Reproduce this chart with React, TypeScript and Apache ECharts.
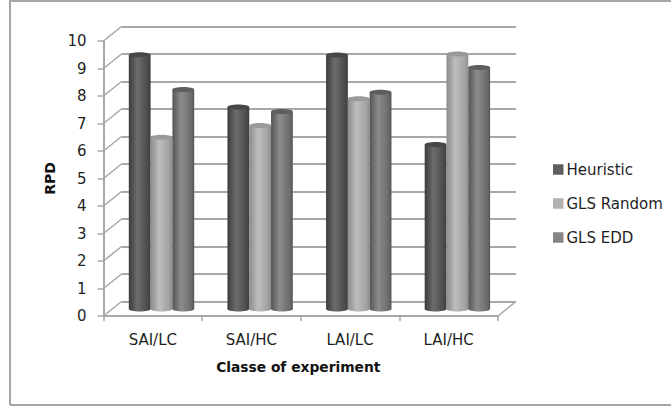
import React, { useEffect, useRef } from "react";
import * as echarts from "echarts";

const categories = ["SAI/LC", "SAI/HC", "LAI/LC", "LAI/HC"];
const heuristic = [9.25, 7.35, 9.24, 5.98];
const glsRandom = [6.25, 6.67, 7.65, 9.27];
const glsEdd = [7.98, 7.18, 7.88, 8.78];
const yTicks = [0, 1, 2, 3, 4, 5, 6, 7, 8, 9, 10];

const FONT = "DejaVu Sans";
const AXIS = "#a8a8a8";
const TEXT = "#1f1f1f";
const DEPTH_X = 18;
const DEPTH_Y = -14.5;
const BAR_DX = 8.7;
const BAR_DY = -7;
const BAR_W = 21.8;

function cylinder(offset: number, stops: string[], cap: string) {
  return (_p: any, api: any) => {
    const top = api.coord([api.value(0), api.value(1)]);
    const base = api.coord([api.value(0), 0]);
    const cx = top[0] + BAR_DX + offset * BAR_W;
    const yTop = top[1] + BAR_DY;
    const yBase = base[1] + BAR_DY;
    const rx = BAR_W / 2;
    const fill = new echarts.graphic.LinearGradient(0, 0, 1, 0, [
      { offset: 0, color: stops[0] },
      { offset: 0.4, color: stops[1] },
      { offset: 0.85, color: stops[2] },
      { offset: 1, color: stops[0] },
    ]);
    return {
      type: "group",
      children: [
        { type: "ellipse", shape: { cx, cy: yBase, rx, ry: 2.5 }, style: { fill } },
        { type: "rect", shape: { x: cx - rx, y: yTop, width: BAR_W, height: yBase - yTop }, style: { fill } },
        { type: "ellipse", shape: { cx, cy: yTop, rx, ry: 2.5 }, style: { fill: cap } },
      ],
    };
  };
}

function barSeries(name: string, values: number[], offset: number, stops: string[], cap: string, color: string) {
  return {
    name,
    type: "custom",
    xAxisIndex: 0,
    yAxisIndex: 0,
    z: 5,
    clip: false,
    itemStyle: { color },
    encode: { x: 0, y: 1 },
    data: values.map((v, i) => [categories[i], v]),
    renderItem: cylinder(offset, stops, cap),
  };
}

export default function App() {
  const ref = useRef<HTMLDivElement>(null);
  useEffect(() => {
    const chart = echarts.init(ref.current!, undefined, { renderer: "svg" });
    const lineStyle = { color: AXIS, width: 2 };
    chart.setOption({
      animation: false,
      backgroundColor: "#fff",
      textStyle: { fontFamily: FONT },
      graphic: [
        {
          type: "polyline",
          z: 0,
          shape: { points: [[10, 405], [10, 1], [671, 1]] },
          style: { stroke: "#a6a6a6", lineWidth: 2, fill: "none" },
        },
        {
          type: "line",
          z: 0,
          shape: { x1: 10, y1: 405, x2: 671, y2: 405 },
          style: { stroke: "#a6a6a6", lineWidth: 2 },
        },
      ],
      legend: {
        orient: "vertical",
        left: 548,
        top: 157,
        icon: "rect",
        itemWidth: 10.5,
        itemHeight: 10.5,
        itemGap: 19,
        textStyle: { fontFamily: FONT, fontSize: 15, color: TEXT, padding: [0, 0, 0, -2] },
        data: ["Heuristic", "GLS Random", "GLS EDD"],
      },
      grid: [
        { left: 103.5, top: 41, width: 394.5, height: 275 },
        { left: 121.5, top: 26.5, width: 394.5, height: 275 },
      ],
      xAxis: [
        {
          type: "category",
          gridIndex: 0,
          data: categories,
          axisLine: { lineStyle },
          axisTick: { show: true, length: 5, lineStyle: { color: AXIS, width: 1.5 } },
          axisLabel: { fontFamily: FONT, fontSize: 15, color: TEXT, margin: 16 },
          name: "Classe of experiment",
          nameLocation: "middle",
          nameGap: 44,
          nameTextStyle: { fontFamily: FONT, fontSize: 13.8, fontWeight: "bold", color: "#111", padding: [0, 5, 0, 0] },
        },
        { type: "category", gridIndex: 1, data: categories, show: false },
      ],
      yAxis: [
        {
          type: "value",
          gridIndex: 0,
          min: 0,
          max: 10,
          interval: 1,
          axisLine: { show: true, lineStyle },
          axisTick: { show: true, length: 6, lineStyle: { color: AXIS, width: 1.5 } },
          splitLine: { show: false },
          axisLabel: { fontFamily: FONT, fontSize: 15, color: TEXT, margin: 17 },
          name: "RPD",
          nameLocation: "middle",
          nameRotate: 90,
          nameGap: 47,
          nameTextStyle: { fontFamily: FONT, fontSize: 14, fontWeight: "bold", color: "#111" },
        },
        {
          type: "value",
          gridIndex: 1,
          min: 0,
          max: 10,
          interval: 1,
          axisLine: { show: false },
          axisTick: { show: false },
          axisLabel: { show: false },
          splitLine: { show: true, lineStyle },
        },
      ],
      series: [
        {
          type: "custom",
          silent: true,
          xAxisIndex: 0,
          yAxisIndex: 0,
          z: 1,
          clip: false,
          encode: { y: 0 },
          data: yTicks.map((v) => [v]),
          renderItem: (_p: any, api: any) => {
            const c = api.coord([0, api.value(0)]);
            const x = _p.coordSys.x;
            return {
              type: "line",
              shape: { x1: x, y1: c[1], x2: x + DEPTH_X, y2: c[1] + DEPTH_Y },
              style: { stroke: AXIS, lineWidth: 1.6 },
            };
          },
        },
        {
          type: "custom",
          silent: true,
          xAxisIndex: 0,
          yAxisIndex: 0,
          z: 1,
          clip: false,
          encode: { y: 0 },
          data: [[0]],
          renderItem: (_p: any, api: any) => {
            const c = api.coord([0, api.value(0)]);
            const x = _p.coordSys.x + _p.coordSys.width;
            return {
              type: "line",
              shape: { x1: x, y1: c[1], x2: x + DEPTH_X, y2: c[1] + DEPTH_Y },
              style: { stroke: AXIS, lineWidth: 1.6 },
            };
          },
        },
        barSeries("Heuristic", heuristic, -1, ["#3c3c3c", "#6c6c6c", "#4c4c4c"], "#474747", "#5f5f5f"),
        barSeries("GLS Random", glsRandom, 0, ["#8c8c8c", "#bdbdbd", "#a2a2a2"], "#9a9a9a", "#b2b2b2"),
        barSeries("GLS EDD", glsEdd, 1, ["#555555", "#8c8c8c", "#6c6c6c"], "#5e5e5e", "#858585"),
      ],
    });
    return () => chart.dispose();
  }, []);
  return <div ref={ref} style={{ position: "absolute", left: 0, top: 0, width: 671, height: 407 }} />;
}
